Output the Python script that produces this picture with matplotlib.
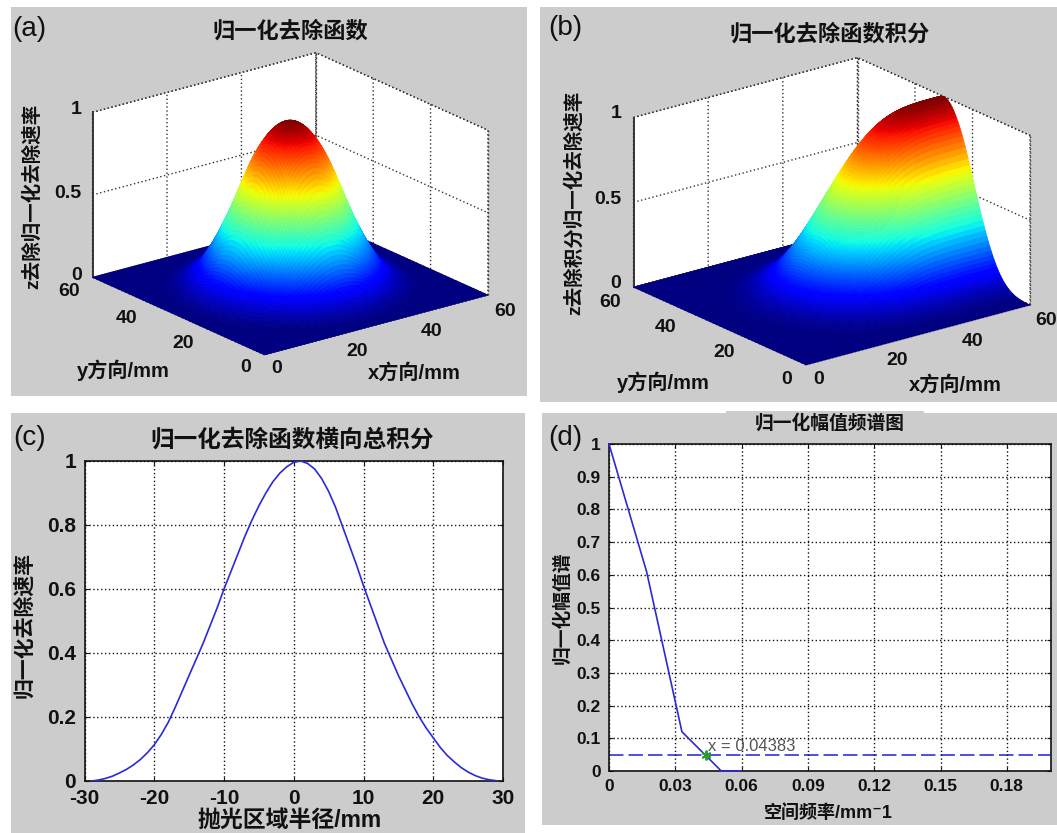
#Imports
import matplotlib
matplotlib.use("Agg")
import matplotlib.pyplot as plt
from matplotlib.patches import Rectangle
import numpy as np

plt.rcParams['font.family'] = ['Liberation Sans', 'Noto Sans CJK SC', 'DejaVu Sans']
plt.rcParams['axes.unicode_minus'] = False

#Data
# removal function against radius, one value per 0.5 mm
radial_rate = [1.000, .999, .996, .992, .986, .977, .966, .954, .940, .925,
               .908, .890, .870, .848, .825, .801, .775, .746, .716, .684,
               .650, .616, .581, .546, .512, .478, .446, .415, .385, .357,
               .330, .302, .276, .250, .226, .203, .181, .160, .141, .123,
               .106, .092, .080, .069, .059, .049, .041, .034, .028, .023,
               .018, .014, .010, .007, .005, .003, .002, .001, .001, 0, 0]

# panel c
c_x = [-29, -28, -27, -26, -25, -24, -23, -22, -21, -20, -19, -18, -17, -16, -15,
       -14, -13, -12, -11, -10, -9, -8, -7, -6, -5, -4, -3, -2, -1, 0,
       1, 2, 3, 4, 5, 6, 7, 8, 9, 10, 11, 12, 13, 14, 15,
       16, 17, 18, 19, 20, 21, 22, 23, 24, 25, 26, 27, 28, 29]
c_y = [0, .003, .008, .015, .025, .036, .05, .067, .088, .113, .145, .183, .23, .28, .33,
       .38, .43, .485, .54, .6, .655, .71, .765, .815, .86, .9, .935, .962, .982, .996,
       1.0, .992, .975, .945, .905, .855, .795, .735, .675, .61, .55, .49, .43, .38, .33,
       .285, .24, .2, .165, .135, .105, .08, .06, .042, .028, .017, .009, .004, .001]

# panel d
d_x = [0, .017, .033, .0508, .0597]
d_y = [1, .61, .12, 0, 0]
d_level = .048
d_mark_x = .04383
d_mark_y = .049

xy_ticks = [0, 20, 40, 60]
z_ticks = [0, .5, 1]
c_xticks = [-30, -20, -10, 0, 10, 20, 30]
c_yticks = [0, .2, .4, .6, .8, 1]
d_xticks = [0, .03, .06, .09, .12, .15, .18]
d_xlabels = ['0', '0.03', '0.06', '0.09', '0.12', '0.15', '0.18']
d_yticks = [0, .1, .2, .3, .4, .5, .6, .7, .8, .9, 1]
d_ylabels = ['0', '0.1', '0.2', '0.3', '0.4', '0.5', '0.6', '0.7', '0.8', '0.9', '1']

#Constants
W = 1057
H = 833
grey = '#cccccc'
line_blue = '#2a2ad8'
dots = (0, (1, 1.8))

fig = plt.figure(figsize=(W/100, H/100), dpi=100, facecolor='white')


def rect_of(left, top, right, bottom):
  return [left/W, 1-bottom/H, (right-left)/W, (bottom-top)/H]


def label(x, y, s, size=13, **kw):
  kw.setdefault('ha', 'center')
  kw.setdefault('va', 'center')
  fig.text(x/W, 1-y/H, s, fontsize=size, color='#111111', **kw)


# Grey panels
for left, top, right, bottom in [(11, 7, 527, 396), (540, 7, 1057, 402),
                                 (11, 413, 525, 833), (542, 413, 1057, 825),
                                 (726, 411, 924, 414)]:
  fig.patches.append(Rectangle((left/W, 1-bottom/H), (right-left)/W, (bottom-top)/H, zorder=-5,
                               transform=fig.transFigure, facecolor=grey, edgecolor='none'))


def surface_panel(rect, Z, aspect):
  ax = fig.add_axes(rect, projection='3d', computed_zorder=False)
  ax.set_proj_type('ortho')
  ax.view_init(elev=20.3, azim=-127.6)
  ax.set_box_aspect(aspect)
  ax.set_facecolor('none')
  ax.set_xlim(0, 60, view_margin=0)
  ax.set_ylim(0, 60, view_margin=0)
  ax.set_zlim(0, 1, view_margin=0)
  ax.set_xticks(xy_ticks)
  ax.set_yticks(xy_ticks)
  ax.set_zticks(z_ticks)
  ax.set_xticklabels([])
  ax.set_yticklabels([])
  ax.set_zticklabels([])
  for axis in [ax.xaxis, ax.yaxis, ax.zaxis]:
    axis.set_pane_color('white')
    axis.pane.set_edgecolor('none')
    axis.line.set_color((0, 0, 0, 0))
    axis._axinfo['grid'].update(color='#333333', linewidth=1.0, linestyle=dots)
    axis._axinfo['tick'].update(inward_factor=0, outward_factor=0)

  # Box edges of the back walls
  for xs, ys, zs in [([0, 60, 60], [60, 60, 0], [1, 1, 1]),
                     ([60, 60], [60, 60], [0, 1]),
                     ([60, 60], [0, 0], [0, 1])]:
    ax.plot(xs, ys, zs, color='#333333', lw=1.0, ls=dots, zorder=1)
  ax.plot([0, 0], [60, 60], [0, 1], color='#333333', lw=1.4, zorder=1)

  # Face colours by hand so the edges take the same colour and hide the seams
  face_z = (Z[:-1, :-1]+Z[1:, :-1]+Z[:-1, 1:]+Z[1:, 1:])/4
  ax.plot_surface(grid_x, grid_y, Z, facecolors=plt.cm.jet(face_z), shade=False, rstride=1, cstride=1,
                  linewidth=0.5, antialiased=True, zorder=2)
  return ax


# Surfaces: look the read profile up by radius, panel b sums it along x
grid = np.arange(0, 60.5, 0.5)
grid_x, grid_y = np.meshgrid(grid, grid)
radius = np.hypot(grid_x-30, grid_y-30)
index = np.minimum(np.rint(radius/0.5).astype(int), len(radial_rate)-1)
z_a = np.array(radial_rate)[index]

# Short box filter takes the rings of the lookup out
box = np.ones(7)/7
z_a = np.apply_along_axis(np.convolve, 0, z_a, box, mode='same')
z_a = np.apply_along_axis(np.convolve, 1, z_a, box, mode='same')
z_a = z_a/z_a.max()
z_b = np.cumsum(z_a, axis=1)
z_b = z_b/z_b.max()

surface_panel(rect_of(73, -2, 496, 421), z_a, (282, 282, 176))
surface_panel(rect_of(613, 4, 1039, 430), z_b, (283, 283, 181))

# Panel c
ax_c = fig.add_axes(rect_of(84.5, 461, 503, 781))
ax_c.plot(c_x, c_y, color=line_blue, lw=1.2, zorder=3)
ax_c.set_xlim(-30, 30)
ax_c.set_ylim(0, 1)
ax_c.set_xticks(c_xticks)
ax_c.set_yticks(c_yticks)
ax_c.set_yticklabels(['0', '0.2', '0.4', '0.6', '0.8', '1'])

# Panel d
ax_d = fig.add_axes(rect_of(609, 444, 1051, 771))
ax_d.plot(d_x, d_y, color=line_blue, lw=1.2, zorder=3, clip_on=False)
ax_d.axhline(d_level, color='#4040e0', lw=1.3, dashes=(8, 2.8))
ax_d.plot([d_mark_x], [d_mark_y], marker=(6, 2, 0), color='#2aa02a', ms=7, mew=1.4, zorder=4)
ax_d.text(d_mark_x+.0008, .076, 'x = 0.04383', fontsize=12, color='#555555', va='center')
ax_d.set_xlim(0, .2)
ax_d.set_ylim(0, 1)
ax_d.set_xticks(d_xticks)
ax_d.set_xticklabels(d_xlabels)
ax_d.set_yticks(d_yticks)
ax_d.set_yticklabels(d_ylabels)

for ax, size, padding in [(ax_c, 15, 6), (ax_d, 12.5, 6)]:
  ax.grid(True, color='#111111', lw=1.0, ls=dots)
  ax.set_axisbelow(False)
  ax.tick_params(direction='in', length=3, top=True, right=True, labelsize=size, pad=padding, colors='#111111')
  for tick_label in ax.get_xticklabels() + ax.get_yticklabels():
    tick_label.set_fontweight('bold')
  for spine in ax.spines.values():
    spine.set_linewidth(1.3)
    spine.set_color('#222222')

# Tick labels of the 3D panels
for x, y, s in [(76, 110, '1'), (68, 193, '0.5'), (77, 275, '0'),
                (69, 292, '60'), (127, 318, '40'), (183, 343, '20'), (246, 368, '0'),
                (277, 369, '0'), (357, 351, '20'), (432, 331, '40'), (505, 312, '60'),
                (616, 114, '1'), (608, 199, '0.5'), (616, 283, '0'),
                (610, 302, '60'), (666, 328, '40'), (724, 353, '20'), (787, 379, '0'),
                (819, 380, '0'), (897, 361, '20'), (973, 341, '40'), (1046, 321, '60')]:
  label(x, y, s, size=14, weight='bold')

# Panel letters
label(12, 29, '(a)', size=20, ha='left')
label(548, 28, '(b)', size=20, ha='left')
label(13, 438, '(c)', size=20, ha='left')
label(548, 438, '(d)', size=20, ha='left')

# Titles and axis labels
label(290, 32, '归一化去除函数', size=16, weight='bold')
label(830, 35, '归一化去除函数积分', size=16, weight='bold')
label(292, 440, '归一化去除函数横向总积分', size=17, weight='bold')
label(830, 423, '归一化幅值频谱图', size=13.5, weight='bold')

label(32, 196, 'z去除归一化去除速率', size=14, rotation=90, weight='bold')
label(574, 203, 'z去除积分归一化去除速率', size=14, rotation=90, weight='bold')
label(24, 625, '归一化去除速率', size=15, rotation=90, weight='bold')
label(562, 608, '归一化幅值谱', size=13.5, rotation=90, weight='bold')

label(123, 370, 'y方向/mm', size=14.5, weight='bold')
label(414, 373, 'x方向/mm', size=14.5, weight='bold')
label(663, 382, 'y方向/mm', size=14.5, weight='bold')
label(955, 385, 'x方向/mm', size=14.5, weight='bold')
label(290, 820, '抛光区域半径/mm', size=16.5, weight='bold')
label(828, 813, '空间频率/mm⁻1', size=13, weight='bold')

fig.savefig('out.png', dpi=100)
